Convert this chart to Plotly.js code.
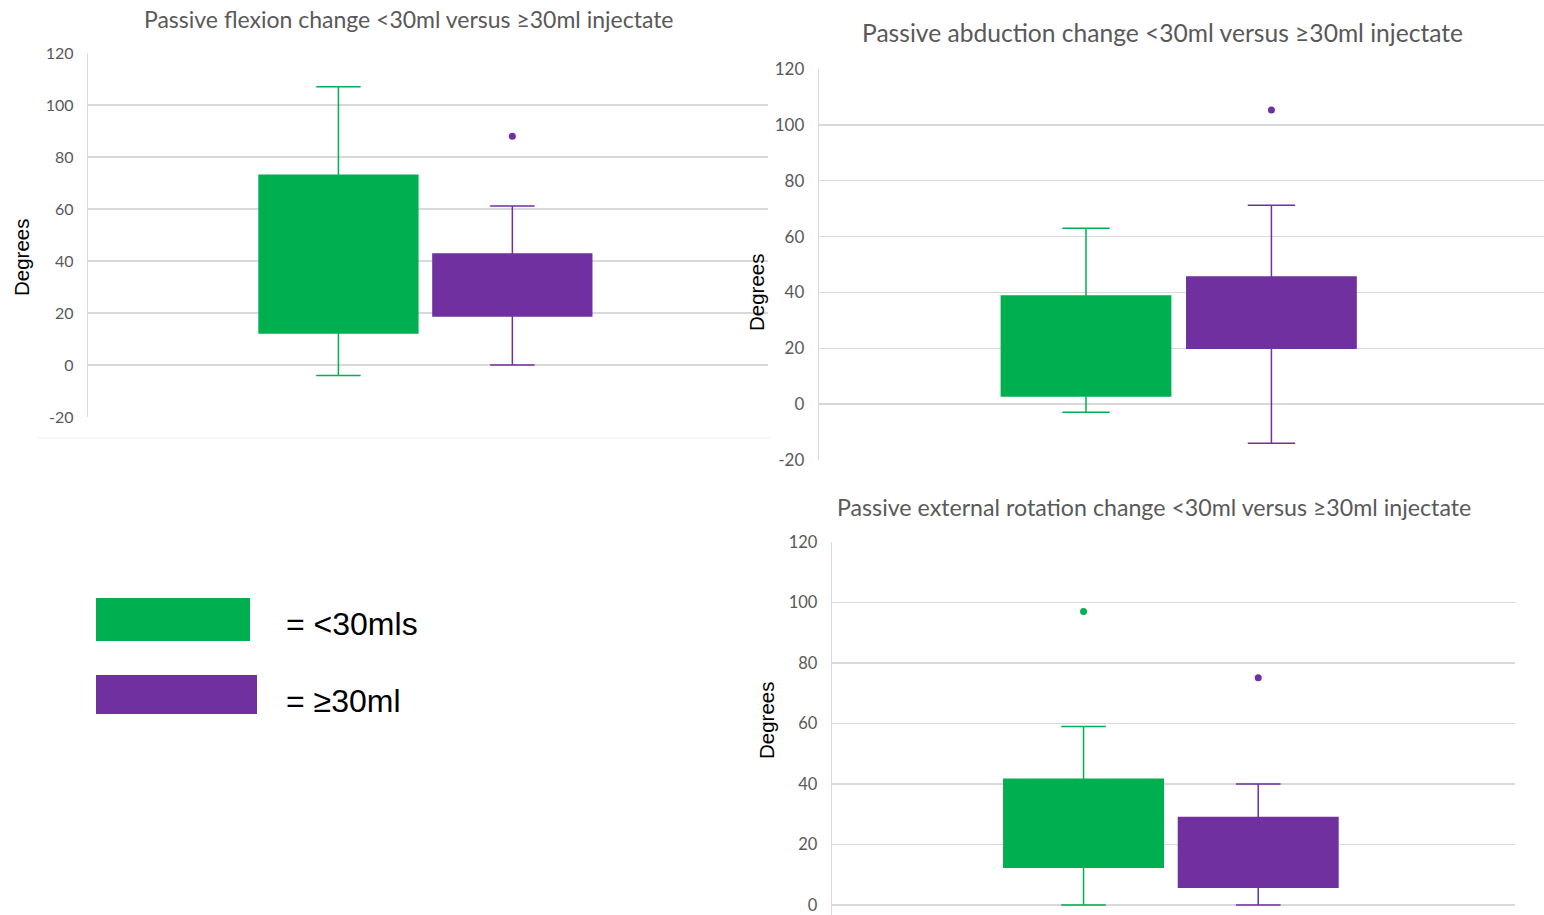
<!DOCTYPE html>
<html><head><meta charset="utf-8">
<script src="https://cdn.plot.ly/plotly-3.0.1.min.js"></script>
<style>html,body{margin:0;padding:0;background:#fff}#chart{width:1544px;height:915px}</style>
</head><body><div id="chart"></div>
<script>
// ---- data ----
const groups = ["<30ml", "≥30ml"];
const legendLabels = ["= <30mls", "= ≥30ml"];
const chartTitles = [
  "Passive flexion change <30ml versus ≥30ml injectate",
  "Passive abduction change <30ml versus ≥30ml injectate",
  "Passive external rotation change <30ml versus ≥30ml injectate"
];
const yTitle = "Degrees";
const yTickVals = [-20, 0, 20, 40, 60, 80, 100, 120];
const yTickText = ["-20", "0", "20", "40", "60", "80", "100", "120"];

// Passive flexion
const flexLower  = [-4, 0];
const flexQ1     = [12.3, 18.8];
const flexMedian = [40, 30];
const flexQ3     = [73, 42.7];
const flexUpper  = [107, 61.2];
const flexOutGroup = ["≥30ml"];
const flexOutValue = [88];

// Passive abduction
const abdLower  = [-2.9, -14];
const abdQ1     = [2.9, 20];
const abdMedian = [20, 32];
const abdQ3     = [38.7, 45.5];
const abdUpper  = [63, 71.2];
const abdOutGroup = ["≥30ml"];
const abdOutValue = [105.3];

// Passive external rotation
const erLower  = [0, 0];
const erQ1     = [12.5, 5.9];
const erMedian = [25, 18];
const erQ3     = [41.6, 28.9];
const erUpper  = [59, 40];
const erOutGroup = ["<30ml", "≥30ml"];
const erOutValue = [97, 75.1];

// ---- styling ----
const colors = {"<30ml": "#00B050", "≥30ml": "#7030A0"};
const W = 1544, H = 915;
const px = v => v / W, py = v => 1 - v / H;

function boxTraces(lower, q1, med, q3, upper, outG, outV, xa, ya) {
  const tr = groups.map((g, i) => ({
    type: "box", x: [g], q1: [q1[i]], median: [med[i]], q3: [q3[i]],
    lowerfence: [lower[i]], upperfence: [upper[i]],
    boxpoints: false, fillcolor: colors[g],
    line: {color: colors[g], width: 1.5}, whiskerwidth: 0.28,
    xaxis: xa, yaxis: ya, showlegend: false, hoverinfo: "skip"
  }));
  tr.push({
    type: "scatter", mode: "markers", x: outG, y: outV,
    marker: {color: outG.map(g => colors[g]), size: 7},
    xaxis: xa, yaxis: ya, showlegend: false, hoverinfo: "skip"
  });
  return tr;
}

const data = [].concat(
  boxTraces(flexLower, flexQ1, flexMedian, flexQ3, flexUpper, flexOutGroup, flexOutValue, "x", "y"),
  boxTraces(abdLower, abdQ1, abdMedian, abdQ3, abdUpper, abdOutGroup, abdOutValue, "x2", "y2"),
  boxTraces(erLower, erQ1, erMedian, erQ3, erUpper, erOutGroup, erOutValue, "x3", "y3")
);

const tickFont = {family: "Lato, 'Open Sans', sans-serif", color: "#595959"};
function xAxis(l, r, anchor) {
  return {domain: [px(l), px(r)], anchor: anchor, type: "category", categoryorder: "array",
    categoryarray: groups, range: [-1.44, 2.47], showgrid: false, zeroline: false,
    showticklabels: false, showline: false, ticks: "", fixedrange: true};
}
function yAxis(t, b, range, anchor, fs) {
  return {domain: [py(b), py(t)], anchor: anchor, range: range,
    tickmode: "array", tickvals: yTickVals, ticktext: yTickText,
    showgrid: true, gridcolor: "#d9d9d9", gridwidth: 1.3, zeroline: false,
    showline: true, linecolor: "#d9d9d9", linewidth: 1.3, ticks: "",
    ticklabelstandoff: 10, ticklabeloverflow: "allow",
    tickfont: Object.assign({size: fs}, tickFont), fixedrange: true};
}

const titleFont = {family: "Lato, 'Open Sans', sans-serif", color: "#595959"};
const ann = (text, x, y, size) => ({
  text: text, xref: "paper", yref: "paper", x: px(x), y: py(y),
  xanchor: "center", yanchor: "middle", showarrow: false,
  font: Object.assign({size: size}, titleFont)
});
const degFont = {family: "'Liberation Sans', Arial, sans-serif", size: 20.5, color: "#000"};
const legFont = {family: "'Liberation Sans', Arial, sans-serif", size: 32, color: "#000"};
const degAnn = (x, y) => ({text: yTitle, xref: "paper", yref: "paper", x: px(x), y: py(y),
  textangle: -90, xanchor: "center", yanchor: "middle", showarrow: false, font: degFont});

const layout = {
  width: W, height: H, margin: {l: 0, r: 0, t: 0, b: 0},
  paper_bgcolor: "#fff", plot_bgcolor: "#fff",
  boxmode: "overlay", boxgap: 0.087, boxgroupgap: 0, showlegend: false,
  xaxis: xAxis(88, 768, "y"),   yaxis: yAxis(53, 417, [-20, 120], "x", 16),
  xaxis2: xAxis(819, 1544, "y2"), yaxis2: yAxis(69, 460, [-20, 120], "x2", 17),
  xaxis3: xAxis(832, 1515, "y3"), yaxis3: yAxis(542, 915, [-3.3, 120], "x3", 16.5),
  annotations: [
    ann(chartTitles[0], 409, 19, 23),
    ann(chartTitles[1], 1162, 33, 24.6),
    ann(chartTitles[2], 1154, 507, 23.2),
    degAnn(21, 257), degAnn(757, 292), degAnn(766, 720),
    {text: legendLabels[0], xref: "paper", yref: "paper", x: px(284), y: py(624),
     xanchor: "left", yanchor: "middle", showarrow: false, font: legFont},
    {text: legendLabels[1], xref: "paper", yref: "paper", x: px(284), y: py(701),
     xanchor: "left", yanchor: "middle", showarrow: false, font: legFont}
  ],
  shapes: [
    {type: "rect", xref: "paper", yref: "paper", x0: px(96), x1: px(250), y0: py(641), y1: py(598),
     fillcolor: colors[groups[0]], line: {width: 0}},
    {type: "rect", xref: "paper", yref: "paper", x0: px(96), x1: px(257), y0: py(714), y1: py(675),
     fillcolor: colors[groups[1]], line: {width: 0}},
    {type: "line", xref: "paper", yref: "paper", x0: px(38), x1: px(770), y0: py(438), y1: py(438),
     line: {color: "#eeeeee", width: 1}}
  ]
};

Plotly.newPlot("chart", data, layout, {displayModeBar: false, staticPlot: true});
</script>
</body></html>
